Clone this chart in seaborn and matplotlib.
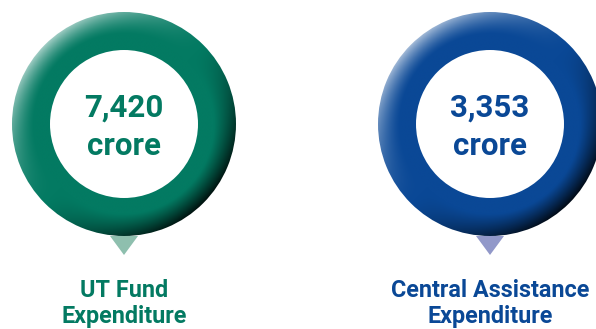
import numpy as np
import matplotlib
matplotlib.use("Agg")
import matplotlib.pyplot as plt
from matplotlib.patches import Wedge, Polygon
from matplotlib.colors import to_rgb
import seaborn as sns

# Expenditure figures (in crore) and their captions
categories = ["UT Fund\nExpenditure", "Central Assistance\nExpenditure"]
amounts = [7420, 3353]
unit = "crore"
ring_colors = ["#037a62", "#0a4896"]
pointer_colors = ["#8ebfae", "#9198c9"]

sns.set_theme(style="white")
plt.rcParams["font.family"] = ["Roboto", "DejaVu Sans"]

W, H = 596, 329
fig = plt.figure(figsize=(W / 100, H / 100), dpi=100)
ax = fig.add_axes([0, 0, 1, 1])
ax.set_xlim(0, W)
ax.set_ylim(H, 0)
ax.set_aspect("equal")
ax.axis("off")

centers_x = [124, 490]
cy = 124
R_out, R_in = 112, 74


def shaded_ring(cx, color):
    base = np.array(to_rgb(color))
    n = 400
    xs = np.linspace(cx - R_out, cx + R_out, n)
    ys = np.linspace(cy - R_out, cy + R_out, n)
    X, Y = np.meshgrid(xs, ys)
    dx, dy = X - cx, Y - cy
    r = np.hypot(dx, dy) + 1e-9
    # light from the upper left
    dot = (-dx - dy) / (np.sqrt(2) * r)
    band = 22.0
    t = np.clip((r - (R_out - band)) / band, 0, 1)
    hi = np.clip(dot, 0, 1) ** 1.5 * t ** 1.4 * 0.62
    lo = np.clip(-dot, 0, 1) ** 1.2 * t ** 1.1 * 0.85
    img = base[None, None, :] * np.ones((n, n, 1))
    img = img * (1 - hi[..., None]) + hi[..., None] * 1.0
    img = img * (1 - lo[..., None])
    im = ax.imshow(img, extent=[cx - R_out, cx + R_out, cy + R_out, cy - R_out],
                   interpolation="bilinear", zorder=2)
    ring = Wedge((cx, cy), R_out, 0, 360, width=R_out - R_in,
                 facecolor="none", edgecolor="none")
    ax.add_patch(ring)
    im.set_clip_path(ring)


for cx, amt, cat, col, pcol in zip(centers_x, amounts, categories,
                                   ring_colors, pointer_colors):
    # pointer below the ring
    ax.add_patch(Polygon([[cx - 14, 236], [cx + 14, 236], [cx, 255]],
                         closed=True, facecolor=pcol, edgecolor="none", zorder=1))
    shaded_ring(cx, col)
    ax.text(cx, 117, f"{amt:,}", ha="center", va="baseline", color=col,
            fontsize=22.5, fontweight="bold", zorder=3)
    ax.text(cx, 155, unit, ha="center", va="baseline", color=col,
            fontsize=22.5, fontweight="bold", zorder=3)
    for line, base_y in zip(cat.split("\n"), [297, 322.5]):
        ax.text(cx, base_y, line, ha="center", va="baseline", color=col,
                fontsize=16.8, fontweight="bold", zorder=3)

ax.set_xlim(0, W)
ax.set_ylim(H, 0)
fig.savefig("out.png", dpi=100, facecolor="white")
